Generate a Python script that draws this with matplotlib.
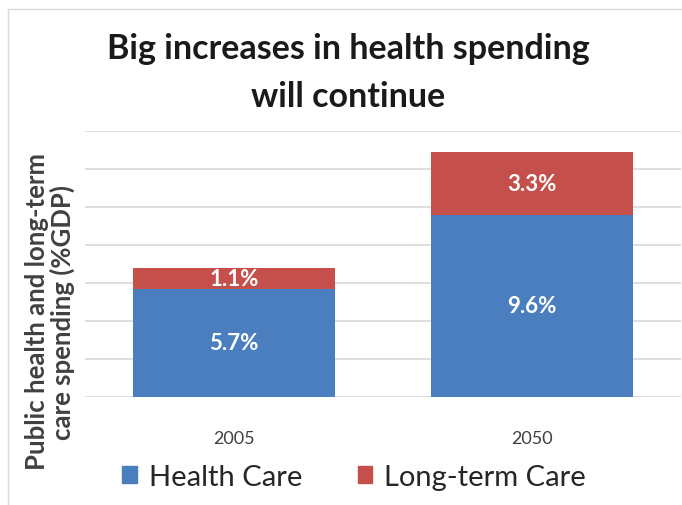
import matplotlib
matplotlib.use("Agg")
import matplotlib.pyplot as plt
from matplotlib.patches import Rectangle, Patch

years = ["2005", "2050"]
health_care = [5.7, 9.6]
long_term_care = [1.1, 3.3]
health_labels = ["5.7%", "9.6%"]
ltc_labels = ["1.1%", "3.3%"]

BLUE = "#4A7EBF"
RED = "#C5504B"
FONT = "Lato"

fig = plt.figure(figsize=(6.82, 5.06), dpi=100)
fig.patch.set_facecolor("white")

# light frame around the chart area
fig.patches.append(Rectangle((8 / 682, -0.01), 1.0, 1 - 10 / 506 + 0.01,
                             transform=fig.transFigure, fill=False,
                             edgecolor="#d9d9d9", linewidth=1.0))

ax = fig.add_axes([85 / 682, (506 - 398) / 506, 596 / 682, 266 / 506])
x = range(len(years))
width = 0.68
ax.bar(x, health_care, width, color=BLUE, zorder=3, label="Health Care")
ax.bar(x, long_term_care, width, bottom=health_care, color=RED, zorder=3,
       label="Long-term Care")

for i in x:
    ax.text(i, health_care[i] / 2, health_labels[i], ha="center", va="center",
            color="white", fontsize=16, fontweight="bold", family=FONT, zorder=4)
    ax.text(i, health_care[i] + long_term_care[i] / 2, ltc_labels[i],
            ha="center", va="center", color="white", fontsize=16,
            fontweight="bold", family=FONT, zorder=4)

ax.set_xlim(-0.5, 1.5)
ax.set_ylim(0, 14)
ax.set_yticks(range(0, 15, 2))
ax.set_yticklabels([])
ax.tick_params(axis="y", length=0)
ax.tick_params(axis="x", length=0, pad=24, labelsize=13, labelcolor="#404040")
ax.set_xticks(list(x))
ax.set_xticklabels(years, family=FONT)
ax.grid(axis="y", color="#d9d9d9", linewidth=1.2, zorder=0)
for s in ax.spines.values():
    s.set_visible(False)

# axis title, placed by hand so it can run below the plot area
fig.text(50 / 682, 1 - 312 / 506, "Public health and long-term\ncare spending (%GDP)",
         rotation=90, ha="center", va="center", fontsize=18.5,
         fontweight="bold", color="#404040", family=FONT, linespacing=1.0)

fig.text(348 / 682, 1 - 73 / 506, "Big increases in health spending\nwill continue",
         ha="center", va="center", fontsize=24.5, fontweight="bold",
         family=FONT, color="#1a1a1a", linespacing=1.6)

handles = [Patch(color=BLUE), Patch(color=RED)]
fig.legend(handles, ["Health Care", "Long-term Care"], loc="center",
           bbox_to_anchor=(354 / 682, 1 - 478 / 506), ncol=2, frameon=False,
           prop={"family": FONT, "size": 21}, handlelength=0.5,
           handleheight=0.5, handletextpad=0.4, columnspacing=1.9,
           labelcolor="#262626")

fig.savefig("out.png", dpi=100)
